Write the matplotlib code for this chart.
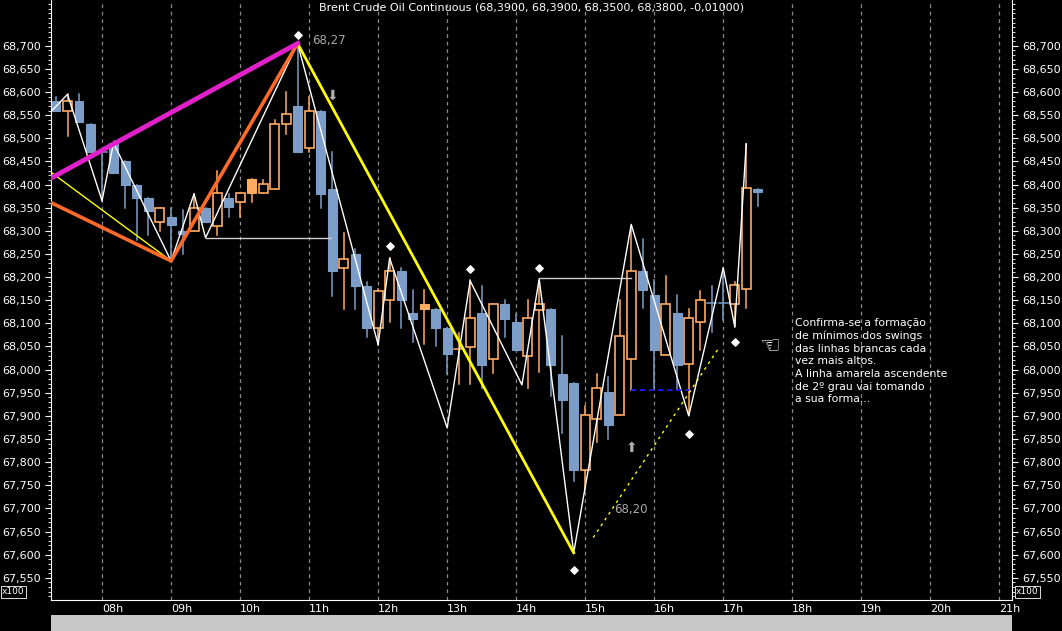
import numpy as np
import matplotlib.pyplot as plt
from matplotlib.patches import Rectangle
from matplotlib.ticker import MultipleLocator, FixedLocator, FuncFormatter

# 10 minute candles, first one at 07:20
opens = [68580, 68560, 68580, 68530, 68470, 68490, 68450, 68400, 68370, 68320,
         68330, 68300, 68300, 68350, 68310, 68370, 68362, 68382, 68382, 68390,
         68530, 68570, 68480, 68560, 68390, 68220, 68250, 68180, 68090, 68150,
         68214, 68123, 68132, 68131, 68090, 68045, 68049, 68123, 68022, 68142,
         68102, 68030, 68129, 68131, 67991, 67971, 67782, 67894, 67952, 67902,
         68023, 68214, 68162, 68031, 68123, 68012, 68103, 68144, 68144, 68142,
         68174, 68391]
highs = [68590, 68595, 68595, 68530, 68470, 68495, 68450, 68400, 68370, 68350,
         68350, 68345, 68380, 68350, 68430, 68380, 68382, 68411, 68410, 68540,
         68600, 68700, 68590, 68560, 68470, 68295, 68260, 68190, 68175, 68242,
         68220, 68173, 68172, 68131, 68090, 68080, 68194, 68181, 68142, 68151,
         68120, 68151, 68188, 68131, 68072, 67971, 67922, 67991, 67985, 68151,
         68309, 68283, 68194, 68203, 68162, 68131, 68170, 68181, 68220, 68190,
         68488, 68391]
lows = [68560, 68505, 68535, 68470, 68365, 68425, 68350, 68280, 68290, 68300,
        68235, 68250, 68300, 68320, 68290, 68330, 68330, 68362, 68382, 68390,
        68510, 68470, 68470, 68350, 68160, 68130, 68130, 68070, 68054, 68104,
        68090, 68060, 68055, 68050, 67990, 67970, 67970, 67960, 67993, 68071,
        68043, 67960, 67994, 67942, 67863, 67760, 67740, 67843, 67850, 67902,
        67956, 68134, 67961, 68031, 67955, 67902, 68043, 68082, 68108, 68093,
        68134, 68353]
closes = [68560, 68580, 68535, 68470, 68470, 68425, 68400, 68370, 68343, 68350,
          68312, 68293, 68350, 68320, 68382, 68352, 68382, 68411, 68402, 68532,
          68553, 68470, 68560, 68380, 68213, 68240, 68180, 68090, 68170, 68214,
          68150, 68110, 68142, 68090, 68033, 68045, 68112, 68010, 68142, 68110,
          68043, 68112, 68142, 68010, 67934, 67782, 67902, 67961, 67881, 68072,
          68213, 68173, 68043, 68142, 68010, 68112, 68150, 68144, 68144, 68182,
          68392, 68384]
orange_doji = [36]
filled_up = [18, 33]

# white swing line (candle number, price)
swing_idx = [0.65, 2, 5, 6, 11, 13, 14, 22, 29, 30, 35, 37, 41.5, 43, 46, 51, 56, 59, 60, 61]
swing_px = [68560, 68595, 68365, 68490, 68235, 68380, 68285, 68705, 68054, 68241,
            67874, 68192, 67967, 68196, 67604, 68314, 67900, 68220, 68093, 68488]

diamond_idx = [22, 30, 37, 43, 46, 56, 60]
diamond_px = [68724, 68268, 68218, 68220, 67567, 67861, 68060]

price_ticks = list(range(67550, 68701, 50))
hours = list(range(8, 22))
hour_labels = ["%02dh" % h for h in hours]


def t(n):
    return 7 + 20 / 60 + (np.asarray(n, dtype=float) - 1) / 6


BLUE = '#7b9dc7'
ORANGE = '#ffab62'

fig = plt.figure(figsize=(10.62, 6.31), dpi=100, facecolor='black')
ax = fig.add_axes([51 / 1062, 1 - 600 / 631, 961 / 1062, 600 / 631])
ax.set_facecolor('black')
ax.set_xlim(t(0.565), t(84.1))
ax.set_ylim(67502, 68799)

for h in hours:
    ax.axvline(h, color='#8a8a8a', lw=0.9, ls=(0, (3, 3)), zorder=1)

w = 0.13
for i, (o, hi, lo, c) in enumerate(zip(opens, highs, lows, closes), start=1):
    x = float(t(i))
    up = c > o or (c == o and i in orange_doji)
    col = ORANGE if up else BLUE
    ax.plot([x, x], [lo, hi], color=col, lw=1.1, zorder=3)
    if c == o:
        ax.plot([x - w / 2, x + w / 2], [o, o], color=col, lw=1.1, zorder=4)
        continue
    y0, y1 = min(o, c), max(o, c)
    if up and i not in filled_up:
        ax.add_patch(Rectangle((x - w / 2, y0), w, y1 - y0, facecolor='black',
                               edgecolor=col, lw=1.2, zorder=4))
    else:
        ax.add_patch(Rectangle((x - w / 2, y0), w, y1 - y0, facecolor=col,
                               edgecolor=col, lw=0.8, zorder=4))

ax.plot(t(swing_idx), swing_px, color='white', lw=1.0, zorder=5)
ax.plot(t([14, 24.9]), [68285, 68285], color='#cfcfcf', lw=1.0, zorder=5)
ax.plot(t([43, 51]), [68197, 68197], color='#cfcfcf', lw=1.0, zorder=5)
ax.plot(t([51, 56]), [67955, 67955], color='#1a1aff', lw=1.3, ls=(0, (3, 2)), zorder=5)

# trend lines
ax.plot(t([0.65, 11]), [68425, 68235], color='yellow', lw=1.0, zorder=6)
ax.plot(t([22, 46]), [68705, 67604], color='yellow', lw=2.0, zorder=6)
ax.plot(t([47.7, 58.7]), [67637, 68050], color='yellow', lw=1.0, ls=(0, (2, 3)), zorder=6)
ax.plot(t([0.65, 11, 22]), [68360, 68235, 68705], color='#ff6a2a', lw=2.6, zorder=6)
ax.plot(t([0.65, 22]), [68415, 68705], color='#e020c8', lw=3.5, zorder=7)

ax.scatter(t(diamond_idx), diamond_px, marker='D', s=14, color='white', zorder=8)
ax.text(float(t(25)), 68592, '\u2b07', color='#b0b0b0', fontsize=10, ha='center', va='center')
ax.text(float(t(51)), 67831, '\u2b06', color='#b0b0b0', fontsize=10, ha='center', va='center')
ax.text(float(t(23.3)), 68712, '68,27', color='#a8a8a8', fontsize=8.5, va='center')
ax.text(float(t(49.5)), 67697, '68,20', color='#a8a8a8', fontsize=8.5, va='center')
ax.text(float(t(62.2)), 68050, '\u261c', color='white', fontsize=17, va='center')
ax.text(float(t(65.2)), 68112,
        "Confirma-se a formação\nde mínimos dos swings\ndas linhas brancas cada\n"
        "vez mais altos.\nA linha amarela ascendente\nde 2º grau vai tomando\na sua forma...",
        color='white', fontsize=7.8, va='top', ha='left', linespacing=1.33)
ax.text(0.5, 0.995, 'Brent Crude Oil Continuous (68,3900, 68,3900, 68,3500, 68,3800, -0,01000)',
        transform=ax.transAxes, color='white', fontsize=8, ha='center', va='top')

ax.yaxis.set_major_locator(FixedLocator(price_ticks))
ax.yaxis.set_minor_locator(MultipleLocator(10))
ax.yaxis.set_major_formatter(FuncFormatter(lambda v, p: f"{v / 1000:,.3f}".replace('.', ',')))
ax.tick_params(axis='y', which='both', colors='white', labelsize=8, left=True, right=True,
               labelleft=True, labelright=True, direction='out')
ax.tick_params(axis='y', which='major', length=4)
ax.tick_params(axis='y', which='minor', length=2)
ax.set_xticks(hours)
ax.set_xticklabels(hour_labels)
ax.tick_params(axis='x', colors='white', labelsize=8, length=0, pad=3)
for lab in ax.get_xticklabels():
    lab.set_horizontalalignment('left')
for s in ax.spines.values():
    s.set_color('white')
    s.set_linewidth(0.8)
ax.spines['top'].set_visible(False)

fig.patches.append(Rectangle((51 / 1062, 0), 961 / 1062, 16 / 631, transform=fig.transFigure,
                             facecolor='#c8c8c8', edgecolor='none'))
for xx in (2, 1016):
    fig.text(xx / 1062, 1 - 592 / 631, 'x100', color='white', fontsize=6.5, va='center',
             bbox=dict(facecolor='black', edgecolor='white', lw=0.6, pad=0.8))

fig.savefig('out.png', dpi=100, facecolor='black')
